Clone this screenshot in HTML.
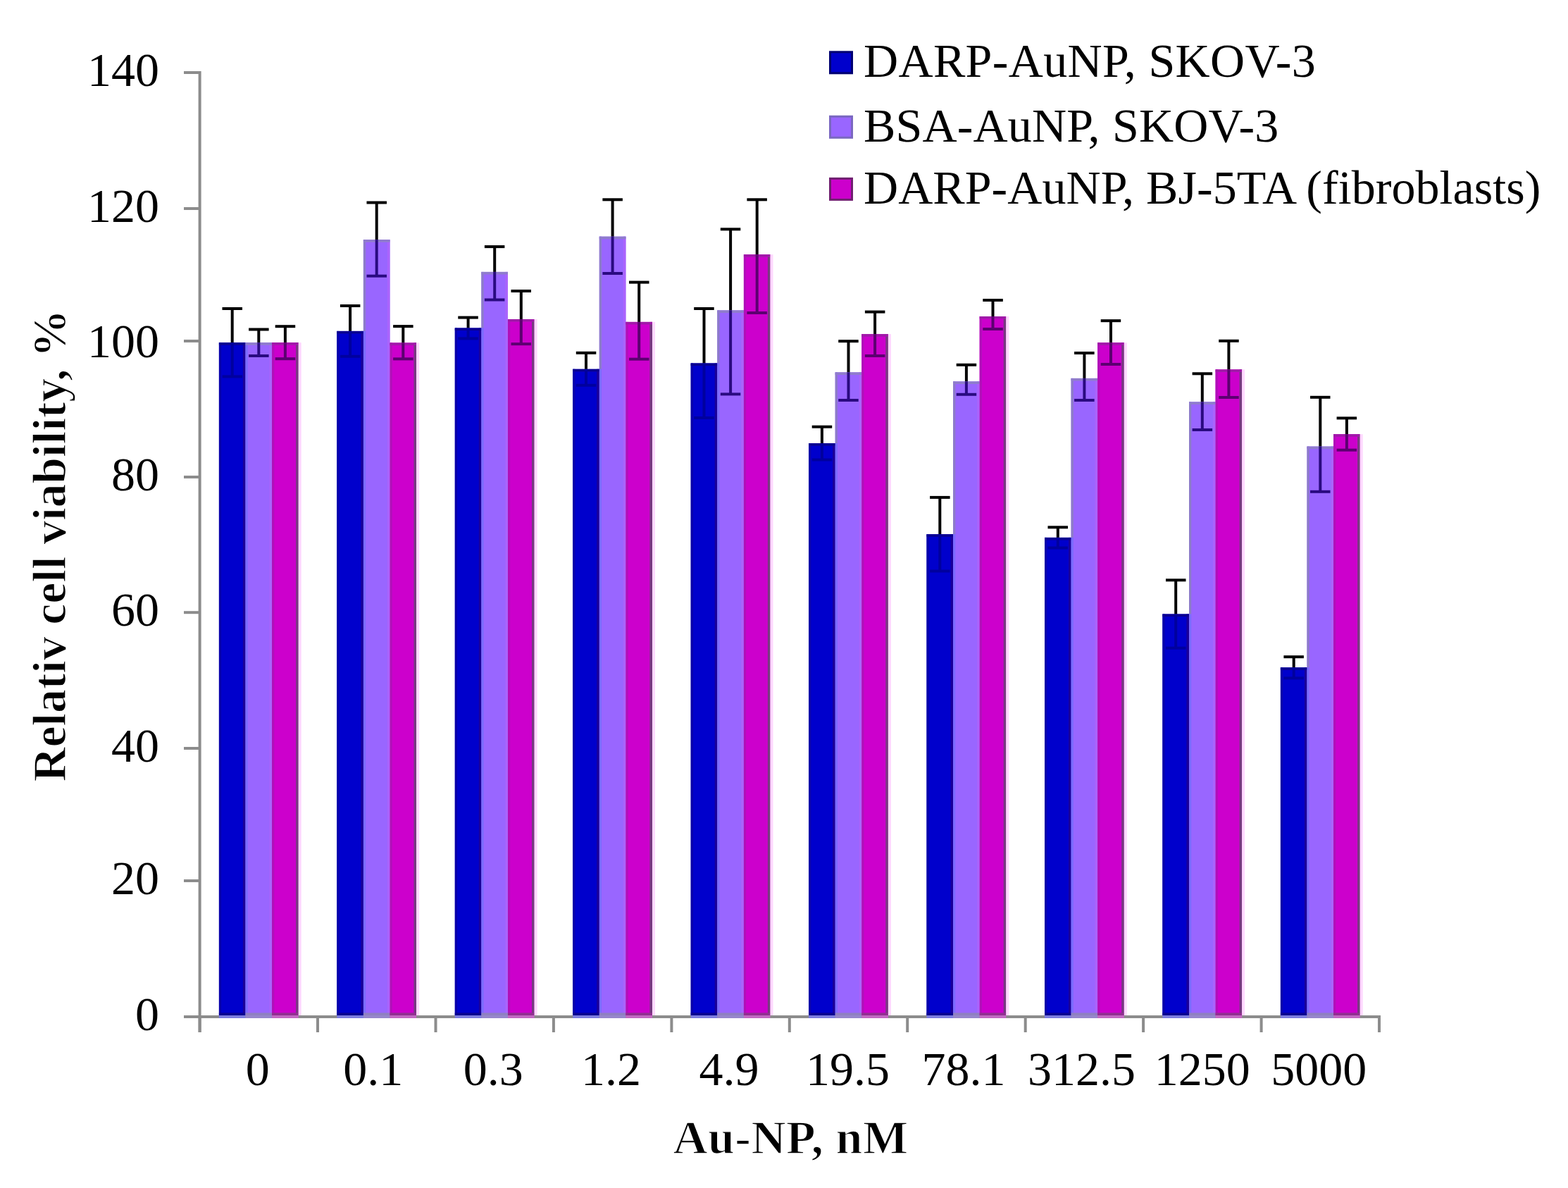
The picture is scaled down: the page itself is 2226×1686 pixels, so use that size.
<!DOCTYPE html>
<html><head><meta charset="utf-8"><title>Relative cell viability</title>
<style>
html,body{margin:0;padding:0;background:#fff;}
svg{display:block;}
.t{font-family:"Liberation Serif","Times New Roman",serif;font-size:68px;fill:#000;}
.b{font-weight:bold;stroke:#fff;stroke-width:1.4px;}
</style></head>
<body>
<svg width="2226" height="1686" viewBox="0 0 2226 1686">
<rect width="2226" height="1686" fill="#fff"/>
<rect x="310.9" y="486.2" width="37.6" height="956.8" fill="#0000cc"/>
<rect x="348.5" y="486.2" width="37.6" height="956.8" fill="#9966ff"/>
<rect x="386.1" y="486.2" width="37.6" height="956.8" fill="#cc00cc"/>
<rect x="478.3" y="469.9" width="37.6" height="973.1" fill="#0000cc"/>
<rect x="515.9" y="340.1" width="37.6" height="1102.9" fill="#9966ff"/>
<rect x="553.5" y="486.5" width="37.6" height="956.5" fill="#cc00cc"/>
<rect x="645.8" y="465.5" width="37.6" height="977.5" fill="#0000cc"/>
<rect x="683.4" y="385.9" width="37.6" height="1057.1" fill="#9966ff"/>
<rect x="721" y="453" width="37.6" height="990" fill="#cc00cc"/>
<rect x="813.2" y="523.8" width="37.6" height="919.2" fill="#0000cc"/>
<rect x="850.8" y="335.7" width="37.6" height="1107.3" fill="#9966ff"/>
<rect x="888.4" y="456.9" width="37.6" height="986.1" fill="#cc00cc"/>
<rect x="980.7" y="515.5" width="37.6" height="927.5" fill="#0000cc"/>
<rect x="1018.3" y="440.4" width="37.6" height="1002.6" fill="#9966ff"/>
<rect x="1055.9" y="361.2" width="37.6" height="1081.8" fill="#cc00cc"/>
<rect x="1148.1" y="629.1" width="37.6" height="813.9" fill="#0000cc"/>
<rect x="1185.7" y="528.4" width="37.6" height="914.6" fill="#9966ff"/>
<rect x="1223.3" y="474.1" width="37.6" height="968.9" fill="#cc00cc"/>
<rect x="1315.5" y="758.2" width="37.6" height="684.8" fill="#0000cc"/>
<rect x="1353.1" y="541.4" width="37.6" height="901.6" fill="#9966ff"/>
<rect x="1390.7" y="449" width="37.6" height="994" fill="#cc00cc"/>
<rect x="1483" y="762.9" width="37.6" height="680.1" fill="#0000cc"/>
<rect x="1520.6" y="536.9" width="37.6" height="906.1" fill="#9966ff"/>
<rect x="1558.2" y="486.3" width="37.6" height="956.7" fill="#cc00cc"/>
<rect x="1650.4" y="871.5" width="37.6" height="571.5" fill="#0000cc"/>
<rect x="1688" y="570.4" width="37.6" height="872.6" fill="#9966ff"/>
<rect x="1725.6" y="524.4" width="37.6" height="918.6" fill="#cc00cc"/>
<rect x="1817.9" y="947.3" width="37.6" height="495.7" fill="#0000cc"/>
<rect x="1855.5" y="633.6" width="37.6" height="809.4" fill="#9966ff"/>
<rect x="1893.1" y="616.2" width="37.6" height="826.8" fill="#cc00cc"/>
<rect x="310.9" y="486.2" width="3.2" height="954.8" fill="#0800aa"/>
<rect x="344.9" y="486.2" width="3.6" height="954.8" fill="#1a0099"/>
<rect x="310.9" y="486.2" width="37.6" height="3.6" fill="#0a0090"/>
<rect x="310.9" y="1437.4" width="37.6" height="3.6" fill="#0a0090"/>
<rect x="348.5" y="486.2" width="3.2" height="954.8" fill="#7a6cff"/>
<rect x="382.5" y="486.2" width="3.6" height="954.8" fill="#aa64fc"/>
<rect x="348.5" y="486.2" width="37.6" height="3.6" fill="#8f7ccc"/>
<rect x="348.5" y="1437.4" width="37.6" height="3.6" fill="#8f80c0"/>
<rect x="386.1" y="486.2" width="3.2" height="954.8" fill="#b010b8"/>
<rect x="420.1" y="486.2" width="3.6" height="954.8" fill="#773a80"/>
<rect x="386.1" y="486.2" width="37.6" height="3.6" fill="#a01aa8"/>
<rect x="386.1" y="1437.4" width="37.6" height="3.6" fill="#903090"/>
<rect x="423.7" y="486.2" width="4" height="954.8" fill="#ffd8ff"/>
<rect x="478.3" y="469.9" width="3.2" height="971.1" fill="#0800aa"/>
<rect x="512.3" y="469.9" width="3.6" height="971.1" fill="#1a0099"/>
<rect x="478.3" y="469.9" width="37.6" height="3.6" fill="#0a0090"/>
<rect x="478.3" y="1437.4" width="37.6" height="3.6" fill="#0a0090"/>
<rect x="515.9" y="340.1" width="3.2" height="129.8" fill="#8c7cc8"/>
<rect x="515.9" y="469.9" width="3.2" height="971.1" fill="#7a6cff"/>
<rect x="549.9" y="340.1" width="3.6" height="1100.9" fill="#aa64fc"/>
<rect x="515.9" y="340.1" width="37.6" height="3.6" fill="#8f7ccc"/>
<rect x="515.9" y="1437.4" width="37.6" height="3.6" fill="#8f80c0"/>
<rect x="553.5" y="486.5" width="3.2" height="954.5" fill="#b010b8"/>
<rect x="587.5" y="486.5" width="3.6" height="954.5" fill="#773a80"/>
<rect x="553.5" y="486.5" width="37.6" height="3.6" fill="#a01aa8"/>
<rect x="553.5" y="1437.4" width="37.6" height="3.6" fill="#903090"/>
<rect x="591.1" y="486.5" width="4" height="954.5" fill="#ffd8ff"/>
<rect x="645.8" y="465.5" width="3.2" height="975.5" fill="#0800aa"/>
<rect x="679.8" y="465.5" width="3.6" height="975.5" fill="#1a0099"/>
<rect x="645.8" y="465.5" width="37.6" height="3.6" fill="#0a0090"/>
<rect x="645.8" y="1437.4" width="37.6" height="3.6" fill="#0a0090"/>
<rect x="683.4" y="385.9" width="3.2" height="79.6" fill="#8c7cc8"/>
<rect x="683.4" y="465.5" width="3.2" height="975.5" fill="#7a6cff"/>
<rect x="717.4" y="385.9" width="3.6" height="1055.1" fill="#aa64fc"/>
<rect x="683.4" y="385.9" width="37.6" height="3.6" fill="#8f7ccc"/>
<rect x="683.4" y="1437.4" width="37.6" height="3.6" fill="#8f80c0"/>
<rect x="721" y="453" width="3.2" height="988" fill="#b010b8"/>
<rect x="755" y="453" width="3.6" height="988" fill="#773a80"/>
<rect x="721" y="453" width="37.6" height="3.6" fill="#a01aa8"/>
<rect x="721" y="1437.4" width="37.6" height="3.6" fill="#903090"/>
<rect x="758.6" y="453" width="4" height="988" fill="#ffd8ff"/>
<rect x="813.2" y="523.8" width="3.2" height="917.2" fill="#0800aa"/>
<rect x="847.2" y="523.8" width="3.6" height="917.2" fill="#1a0099"/>
<rect x="813.2" y="523.8" width="37.6" height="3.6" fill="#0a0090"/>
<rect x="813.2" y="1437.4" width="37.6" height="3.6" fill="#0a0090"/>
<rect x="850.8" y="335.7" width="3.2" height="188.1" fill="#8c7cc8"/>
<rect x="850.8" y="523.8" width="3.2" height="917.2" fill="#7a6cff"/>
<rect x="884.8" y="335.7" width="3.6" height="1105.3" fill="#aa64fc"/>
<rect x="850.8" y="335.7" width="37.6" height="3.6" fill="#8f7ccc"/>
<rect x="850.8" y="1437.4" width="37.6" height="3.6" fill="#8f80c0"/>
<rect x="888.4" y="456.9" width="3.2" height="984.1" fill="#b010b8"/>
<rect x="922.4" y="456.9" width="3.6" height="984.1" fill="#773a80"/>
<rect x="888.4" y="456.9" width="37.6" height="3.6" fill="#a01aa8"/>
<rect x="888.4" y="1437.4" width="37.6" height="3.6" fill="#903090"/>
<rect x="926" y="456.9" width="4" height="984.1" fill="#ffd8ff"/>
<rect x="980.7" y="515.5" width="3.2" height="925.5" fill="#0800aa"/>
<rect x="1014.7" y="515.5" width="3.6" height="925.5" fill="#1a0099"/>
<rect x="980.7" y="515.5" width="37.6" height="3.6" fill="#0a0090"/>
<rect x="980.7" y="1437.4" width="37.6" height="3.6" fill="#0a0090"/>
<rect x="1018.3" y="440.4" width="3.2" height="75.1" fill="#8c7cc8"/>
<rect x="1018.3" y="515.5" width="3.2" height="925.5" fill="#7a6cff"/>
<rect x="1052.3" y="440.4" width="3.6" height="1000.6" fill="#aa64fc"/>
<rect x="1018.3" y="440.4" width="37.6" height="3.6" fill="#8f7ccc"/>
<rect x="1018.3" y="1437.4" width="37.6" height="3.6" fill="#8f80c0"/>
<rect x="1055.9" y="361.2" width="3.2" height="1079.8" fill="#b010b8"/>
<rect x="1089.9" y="361.2" width="3.6" height="1079.8" fill="#773a80"/>
<rect x="1055.9" y="361.2" width="37.6" height="3.6" fill="#a01aa8"/>
<rect x="1055.9" y="1437.4" width="37.6" height="3.6" fill="#903090"/>
<rect x="1093.5" y="361.2" width="4" height="1079.8" fill="#ffd8ff"/>
<rect x="1148.1" y="629.1" width="3.2" height="811.9" fill="#0800aa"/>
<rect x="1182.1" y="629.1" width="3.6" height="811.9" fill="#1a0099"/>
<rect x="1148.1" y="629.1" width="37.6" height="3.6" fill="#0a0090"/>
<rect x="1148.1" y="1437.4" width="37.6" height="3.6" fill="#0a0090"/>
<rect x="1185.7" y="528.4" width="3.2" height="100.7" fill="#8c7cc8"/>
<rect x="1185.7" y="629.1" width="3.2" height="811.9" fill="#7a6cff"/>
<rect x="1219.7" y="528.4" width="3.6" height="912.6" fill="#aa64fc"/>
<rect x="1185.7" y="528.4" width="37.6" height="3.6" fill="#8f7ccc"/>
<rect x="1185.7" y="1437.4" width="37.6" height="3.6" fill="#8f80c0"/>
<rect x="1223.3" y="474.1" width="3.2" height="966.9" fill="#b010b8"/>
<rect x="1257.3" y="474.1" width="3.6" height="966.9" fill="#773a80"/>
<rect x="1223.3" y="474.1" width="37.6" height="3.6" fill="#a01aa8"/>
<rect x="1223.3" y="1437.4" width="37.6" height="3.6" fill="#903090"/>
<rect x="1260.9" y="474.1" width="4" height="966.9" fill="#ffd8ff"/>
<rect x="1315.5" y="758.2" width="3.2" height="682.8" fill="#0800aa"/>
<rect x="1349.5" y="758.2" width="3.6" height="682.8" fill="#1a0099"/>
<rect x="1315.5" y="758.2" width="37.6" height="3.6" fill="#0a0090"/>
<rect x="1315.5" y="1437.4" width="37.6" height="3.6" fill="#0a0090"/>
<rect x="1353.1" y="541.4" width="3.2" height="216.8" fill="#8c7cc8"/>
<rect x="1353.1" y="758.2" width="3.2" height="682.8" fill="#7a6cff"/>
<rect x="1387.1" y="541.4" width="3.6" height="899.6" fill="#aa64fc"/>
<rect x="1353.1" y="541.4" width="37.6" height="3.6" fill="#8f7ccc"/>
<rect x="1353.1" y="1437.4" width="37.6" height="3.6" fill="#8f80c0"/>
<rect x="1390.7" y="449" width="3.2" height="992" fill="#b010b8"/>
<rect x="1424.7" y="449" width="3.6" height="992" fill="#773a80"/>
<rect x="1390.7" y="449" width="37.6" height="3.6" fill="#a01aa8"/>
<rect x="1390.7" y="1437.4" width="37.6" height="3.6" fill="#903090"/>
<rect x="1428.3" y="449" width="4" height="992" fill="#ffd8ff"/>
<rect x="1483" y="762.9" width="3.2" height="678.1" fill="#0800aa"/>
<rect x="1517" y="762.9" width="3.6" height="678.1" fill="#1a0099"/>
<rect x="1483" y="762.9" width="37.6" height="3.6" fill="#0a0090"/>
<rect x="1483" y="1437.4" width="37.6" height="3.6" fill="#0a0090"/>
<rect x="1520.6" y="536.9" width="3.2" height="226" fill="#8c7cc8"/>
<rect x="1520.6" y="762.9" width="3.2" height="678.1" fill="#7a6cff"/>
<rect x="1554.6" y="536.9" width="3.6" height="904.1" fill="#aa64fc"/>
<rect x="1520.6" y="536.9" width="37.6" height="3.6" fill="#8f7ccc"/>
<rect x="1520.6" y="1437.4" width="37.6" height="3.6" fill="#8f80c0"/>
<rect x="1558.2" y="486.3" width="3.2" height="954.7" fill="#b010b8"/>
<rect x="1592.2" y="486.3" width="3.6" height="954.7" fill="#773a80"/>
<rect x="1558.2" y="486.3" width="37.6" height="3.6" fill="#a01aa8"/>
<rect x="1558.2" y="1437.4" width="37.6" height="3.6" fill="#903090"/>
<rect x="1595.8" y="486.3" width="4" height="954.7" fill="#ffd8ff"/>
<rect x="1650.4" y="871.5" width="3.2" height="569.5" fill="#0800aa"/>
<rect x="1684.4" y="871.5" width="3.6" height="569.5" fill="#1a0099"/>
<rect x="1650.4" y="871.5" width="37.6" height="3.6" fill="#0a0090"/>
<rect x="1650.4" y="1437.4" width="37.6" height="3.6" fill="#0a0090"/>
<rect x="1688" y="570.4" width="3.2" height="301.1" fill="#8c7cc8"/>
<rect x="1688" y="871.5" width="3.2" height="569.5" fill="#7a6cff"/>
<rect x="1722" y="570.4" width="3.6" height="870.6" fill="#aa64fc"/>
<rect x="1688" y="570.4" width="37.6" height="3.6" fill="#8f7ccc"/>
<rect x="1688" y="1437.4" width="37.6" height="3.6" fill="#8f80c0"/>
<rect x="1725.6" y="524.4" width="3.2" height="916.6" fill="#b010b8"/>
<rect x="1759.6" y="524.4" width="3.6" height="916.6" fill="#773a80"/>
<rect x="1725.6" y="524.4" width="37.6" height="3.6" fill="#a01aa8"/>
<rect x="1725.6" y="1437.4" width="37.6" height="3.6" fill="#903090"/>
<rect x="1763.2" y="524.4" width="4" height="916.6" fill="#ffd8ff"/>
<rect x="1817.9" y="947.3" width="3.2" height="493.7" fill="#0800aa"/>
<rect x="1851.9" y="947.3" width="3.6" height="493.7" fill="#1a0099"/>
<rect x="1817.9" y="947.3" width="37.6" height="3.6" fill="#0a0090"/>
<rect x="1817.9" y="1437.4" width="37.6" height="3.6" fill="#0a0090"/>
<rect x="1855.5" y="633.6" width="3.2" height="313.7" fill="#8c7cc8"/>
<rect x="1855.5" y="947.3" width="3.2" height="493.7" fill="#7a6cff"/>
<rect x="1889.5" y="633.6" width="3.6" height="807.4" fill="#aa64fc"/>
<rect x="1855.5" y="633.6" width="37.6" height="3.6" fill="#8f7ccc"/>
<rect x="1855.5" y="1437.4" width="37.6" height="3.6" fill="#8f80c0"/>
<rect x="1893.1" y="616.2" width="3.2" height="824.8" fill="#b010b8"/>
<rect x="1927.1" y="616.2" width="3.6" height="824.8" fill="#773a80"/>
<rect x="1893.1" y="616.2" width="37.6" height="3.6" fill="#a01aa8"/>
<rect x="1893.1" y="1437.4" width="37.6" height="3.6" fill="#903090"/>
<rect x="1930.7" y="616.2" width="4" height="824.8" fill="#ffd8ff"/>
<rect x="327.7" y="438" width="4" height="48.2" fill="#000"/>
<rect x="315.5" y="436" width="28.5" height="4" fill="#000"/>
<rect x="327.7" y="486.2" width="4" height="48.2" fill="#00009e"/>
<rect x="315.5" y="532.4" width="28.5" height="4" fill="#00009e"/>
<rect x="365.3" y="467.5" width="4" height="18.7" fill="#000"/>
<rect x="353.1" y="465.5" width="28.5" height="4" fill="#000"/>
<rect x="365.3" y="486.2" width="4" height="18.8" fill="#2a0a80"/>
<rect x="353.1" y="503" width="28.5" height="4" fill="#2a0a80"/>
<rect x="402.9" y="463.2" width="4" height="23" fill="#000"/>
<rect x="390.7" y="461.2" width="28.5" height="4" fill="#000"/>
<rect x="402.9" y="486.2" width="4" height="23" fill="#5c0070"/>
<rect x="390.7" y="507.2" width="28.5" height="4" fill="#5c0070"/>
<rect x="495.1" y="434" width="4" height="35.9" fill="#000"/>
<rect x="482.9" y="432" width="28.5" height="4" fill="#000"/>
<rect x="495.1" y="469.9" width="4" height="35.9" fill="#00009e"/>
<rect x="482.9" y="503.8" width="28.5" height="4" fill="#00009e"/>
<rect x="532.7" y="287.5" width="4" height="52.6" fill="#000"/>
<rect x="520.5" y="285.5" width="28.5" height="4" fill="#000"/>
<rect x="532.7" y="340.1" width="4" height="51.6" fill="#2a0a80"/>
<rect x="520.5" y="389.7" width="28.5" height="4" fill="#2a0a80"/>
<rect x="570.3" y="463.1" width="4" height="23.4" fill="#000"/>
<rect x="558.1" y="461.1" width="28.5" height="4" fill="#000"/>
<rect x="570.3" y="486.5" width="4" height="22.9" fill="#5c0070"/>
<rect x="558.1" y="507.4" width="28.5" height="4" fill="#5c0070"/>
<rect x="662.6" y="450.6" width="4" height="14.9" fill="#000"/>
<rect x="650.3" y="448.6" width="28.5" height="4" fill="#000"/>
<rect x="662.6" y="465.5" width="4" height="14.9" fill="#00009e"/>
<rect x="650.3" y="478.4" width="28.5" height="4" fill="#00009e"/>
<rect x="700.2" y="350.1" width="4" height="35.8" fill="#000"/>
<rect x="687.9" y="348.1" width="28.5" height="4" fill="#000"/>
<rect x="700.2" y="385.9" width="4" height="39.6" fill="#2a0a80"/>
<rect x="687.9" y="423.5" width="28.5" height="4" fill="#2a0a80"/>
<rect x="737.8" y="413" width="4" height="40" fill="#000"/>
<rect x="725.5" y="411" width="28.5" height="4" fill="#000"/>
<rect x="737.8" y="453" width="4" height="35.2" fill="#5c0070"/>
<rect x="725.5" y="486.2" width="28.5" height="4" fill="#5c0070"/>
<rect x="830" y="500.8" width="4" height="23" fill="#000"/>
<rect x="817.8" y="498.8" width="28.5" height="4" fill="#000"/>
<rect x="830" y="523.8" width="4" height="23" fill="#00009e"/>
<rect x="817.8" y="544.8" width="28.5" height="4" fill="#00009e"/>
<rect x="867.6" y="283.3" width="4" height="52.4" fill="#000"/>
<rect x="855.4" y="281.3" width="28.5" height="4" fill="#000"/>
<rect x="867.6" y="335.7" width="4" height="52.3" fill="#2a0a80"/>
<rect x="855.4" y="386" width="28.5" height="4" fill="#2a0a80"/>
<rect x="905.2" y="400.6" width="4" height="56.3" fill="#000"/>
<rect x="893" y="398.6" width="28.5" height="4" fill="#000"/>
<rect x="905.2" y="456.9" width="4" height="52.8" fill="#5c0070"/>
<rect x="893" y="507.7" width="28.5" height="4" fill="#5c0070"/>
<rect x="997.5" y="438" width="4" height="77.5" fill="#000"/>
<rect x="985.2" y="436" width="28.5" height="4" fill="#000"/>
<rect x="997.5" y="515.5" width="4" height="77.5" fill="#00009e"/>
<rect x="985.2" y="591" width="28.5" height="4" fill="#00009e"/>
<rect x="1035.1" y="325.3" width="4" height="115.1" fill="#000"/>
<rect x="1022.8" y="323.3" width="28.5" height="4" fill="#000"/>
<rect x="1035.1" y="440.4" width="4" height="119" fill="#2a0a80"/>
<rect x="1022.8" y="557.4" width="28.5" height="4" fill="#2a0a80"/>
<rect x="1072.7" y="283.3" width="4" height="77.9" fill="#000"/>
<rect x="1060.4" y="281.3" width="28.5" height="4" fill="#000"/>
<rect x="1072.7" y="361.2" width="4" height="82.8" fill="#5c0070"/>
<rect x="1060.4" y="442" width="28.5" height="4" fill="#5c0070"/>
<rect x="1164.9" y="605.7" width="4" height="23.4" fill="#000"/>
<rect x="1152.7" y="603.7" width="28.5" height="4" fill="#000"/>
<rect x="1164.9" y="629.1" width="4" height="23.4" fill="#00009e"/>
<rect x="1152.7" y="650.5" width="28.5" height="4" fill="#00009e"/>
<rect x="1202.5" y="484.2" width="4" height="44.2" fill="#000"/>
<rect x="1190.2" y="482.2" width="28.5" height="4" fill="#000"/>
<rect x="1202.5" y="528.4" width="4" height="39.6" fill="#2a0a80"/>
<rect x="1190.2" y="566" width="28.5" height="4" fill="#2a0a80"/>
<rect x="1240.1" y="442.6" width="4" height="31.5" fill="#000"/>
<rect x="1227.9" y="440.6" width="28.5" height="4" fill="#000"/>
<rect x="1240.1" y="474.1" width="4" height="30.9" fill="#5c0070"/>
<rect x="1227.9" y="503" width="28.5" height="4" fill="#5c0070"/>
<rect x="1332.3" y="705.9" width="4" height="52.3" fill="#000"/>
<rect x="1320.1" y="703.9" width="28.5" height="4" fill="#000"/>
<rect x="1332.3" y="758.2" width="4" height="52.3" fill="#00009e"/>
<rect x="1320.1" y="808.5" width="28.5" height="4" fill="#00009e"/>
<rect x="1369.9" y="517.8" width="4" height="23.6" fill="#000"/>
<rect x="1357.7" y="515.8" width="28.5" height="4" fill="#000"/>
<rect x="1369.9" y="541.4" width="4" height="18.4" fill="#2a0a80"/>
<rect x="1357.7" y="557.8" width="28.5" height="4" fill="#2a0a80"/>
<rect x="1407.5" y="426" width="4" height="23" fill="#000"/>
<rect x="1395.3" y="424" width="28.5" height="4" fill="#000"/>
<rect x="1407.5" y="449" width="4" height="18" fill="#5c0070"/>
<rect x="1395.3" y="465" width="28.5" height="4" fill="#5c0070"/>
<rect x="1499.8" y="748.3" width="4" height="14.6" fill="#000"/>
<rect x="1487.5" y="746.3" width="28.5" height="4" fill="#000"/>
<rect x="1499.8" y="762.9" width="4" height="14.6" fill="#00009e"/>
<rect x="1487.5" y="775.5" width="28.5" height="4" fill="#00009e"/>
<rect x="1537.4" y="501" width="4" height="35.9" fill="#000"/>
<rect x="1525.1" y="499" width="28.5" height="4" fill="#000"/>
<rect x="1537.4" y="536.9" width="4" height="31.1" fill="#2a0a80"/>
<rect x="1525.1" y="566" width="28.5" height="4" fill="#2a0a80"/>
<rect x="1575" y="455.2" width="4" height="31.1" fill="#000"/>
<rect x="1562.7" y="453.2" width="28.5" height="4" fill="#000"/>
<rect x="1575" y="486.3" width="4" height="30.7" fill="#5c0070"/>
<rect x="1562.7" y="515" width="28.5" height="4" fill="#5c0070"/>
<rect x="1667.2" y="823.3" width="4" height="48.2" fill="#000"/>
<rect x="1655" y="821.3" width="28.5" height="4" fill="#000"/>
<rect x="1667.2" y="871.5" width="4" height="48.2" fill="#00009e"/>
<rect x="1655" y="917.7" width="28.5" height="4" fill="#00009e"/>
<rect x="1704.8" y="530.3" width="4" height="40.1" fill="#000"/>
<rect x="1692.6" y="528.3" width="28.5" height="4" fill="#000"/>
<rect x="1704.8" y="570.4" width="4" height="39.6" fill="#2a0a80"/>
<rect x="1692.6" y="608" width="28.5" height="4" fill="#2a0a80"/>
<rect x="1742.4" y="483.8" width="4" height="40.6" fill="#000"/>
<rect x="1730.2" y="481.8" width="28.5" height="4" fill="#000"/>
<rect x="1742.4" y="524.4" width="4" height="39.6" fill="#5c0070"/>
<rect x="1730.2" y="562" width="28.5" height="4" fill="#5c0070"/>
<rect x="1834.7" y="932.2" width="4" height="15.1" fill="#000"/>
<rect x="1822.4" y="930.2" width="28.5" height="4" fill="#000"/>
<rect x="1834.7" y="947.3" width="4" height="15.1" fill="#00009e"/>
<rect x="1822.4" y="960.4" width="28.5" height="4" fill="#00009e"/>
<rect x="1872.3" y="563.8" width="4" height="69.8" fill="#000"/>
<rect x="1860" y="561.8" width="28.5" height="4" fill="#000"/>
<rect x="1872.3" y="633.6" width="4" height="64.2" fill="#2a0a80"/>
<rect x="1860" y="695.8" width="28.5" height="4" fill="#2a0a80"/>
<rect x="1909.9" y="593.4" width="4" height="22.8" fill="#000"/>
<rect x="1897.6" y="591.4" width="28.5" height="4" fill="#000"/>
<rect x="1909.9" y="616.2" width="4" height="22.5" fill="#5c0070"/>
<rect x="1897.6" y="636.7" width="28.5" height="4" fill="#5c0070"/>
<rect x="281.6" y="101" width="4" height="1364" fill="#8c8c8c"/>
<rect x="261" y="1441" width="1699" height="4" fill="#8c8c8c"/>
<rect x="261" y="1441" width="22.6" height="4" fill="#8c8c8c"/>
<rect x="261" y="1248" width="22.6" height="4" fill="#8c8c8c"/>
<rect x="261" y="1060" width="22.6" height="4" fill="#8c8c8c"/>
<rect x="261" y="867.2" width="22.6" height="4" fill="#8c8c8c"/>
<rect x="261" y="675" width="22.6" height="4" fill="#8c8c8c"/>
<rect x="261" y="482" width="22.6" height="4" fill="#8c8c8c"/>
<rect x="261" y="294" width="22.6" height="4" fill="#8c8c8c"/>
<rect x="261" y="101" width="22.6" height="4" fill="#8c8c8c"/>
<rect x="281.6" y="1443" width="4" height="22" fill="#8c8c8c"/>
<rect x="449" y="1443" width="4" height="22" fill="#8c8c8c"/>
<rect x="616.5" y="1443" width="4" height="22" fill="#8c8c8c"/>
<rect x="783.9" y="1443" width="4" height="22" fill="#8c8c8c"/>
<rect x="951.4" y="1443" width="4" height="22" fill="#8c8c8c"/>
<rect x="1118.8" y="1443" width="4" height="22" fill="#8c8c8c"/>
<rect x="1286.2" y="1443" width="4" height="22" fill="#8c8c8c"/>
<rect x="1453.7" y="1443" width="4" height="22" fill="#8c8c8c"/>
<rect x="1621.1" y="1443" width="4" height="22" fill="#8c8c8c"/>
<rect x="1788.6" y="1443" width="4" height="22" fill="#8c8c8c"/>
<rect x="1956" y="1443" width="4" height="22" fill="#8c8c8c"/>
<rect x="310.9" y="1441" width="37.6" height="4" fill="#7c7ce0"/>
<rect x="348.5" y="1441" width="37.6" height="4" fill="#9686cc"/>
<rect x="386.1" y="1441" width="37.6" height="4" fill="#c268c2"/>
<rect x="478.3" y="1441" width="37.6" height="4" fill="#7c7ce0"/>
<rect x="515.9" y="1441" width="37.6" height="4" fill="#9686cc"/>
<rect x="553.5" y="1441" width="37.6" height="4" fill="#c268c2"/>
<rect x="645.8" y="1441" width="37.6" height="4" fill="#7c7ce0"/>
<rect x="683.4" y="1441" width="37.6" height="4" fill="#9686cc"/>
<rect x="721" y="1441" width="37.6" height="4" fill="#c268c2"/>
<rect x="813.2" y="1441" width="37.6" height="4" fill="#7c7ce0"/>
<rect x="850.8" y="1441" width="37.6" height="4" fill="#9686cc"/>
<rect x="888.4" y="1441" width="37.6" height="4" fill="#c268c2"/>
<rect x="980.7" y="1441" width="37.6" height="4" fill="#7c7ce0"/>
<rect x="1018.3" y="1441" width="37.6" height="4" fill="#9686cc"/>
<rect x="1055.9" y="1441" width="37.6" height="4" fill="#c268c2"/>
<rect x="1148.1" y="1441" width="37.6" height="4" fill="#7c7ce0"/>
<rect x="1185.7" y="1441" width="37.6" height="4" fill="#9686cc"/>
<rect x="1223.3" y="1441" width="37.6" height="4" fill="#c268c2"/>
<rect x="1315.5" y="1441" width="37.6" height="4" fill="#7c7ce0"/>
<rect x="1353.1" y="1441" width="37.6" height="4" fill="#9686cc"/>
<rect x="1390.7" y="1441" width="37.6" height="4" fill="#c268c2"/>
<rect x="1483" y="1441" width="37.6" height="4" fill="#7c7ce0"/>
<rect x="1520.6" y="1441" width="37.6" height="4" fill="#9686cc"/>
<rect x="1558.2" y="1441" width="37.6" height="4" fill="#c268c2"/>
<rect x="1650.4" y="1441" width="37.6" height="4" fill="#7c7ce0"/>
<rect x="1688" y="1441" width="37.6" height="4" fill="#9686cc"/>
<rect x="1725.6" y="1441" width="37.6" height="4" fill="#c268c2"/>
<rect x="1817.9" y="1441" width="37.6" height="4" fill="#7c7ce0"/>
<rect x="1855.5" y="1441" width="37.6" height="4" fill="#9686cc"/>
<rect x="1893.1" y="1441" width="37.6" height="4" fill="#c268c2"/>
<text x="226" y="1461.8" text-anchor="end" class="t">0</text>
<text x="226" y="1269.1" text-anchor="end" class="t">20</text>
<text x="226" y="1080.8" text-anchor="end" class="t">40</text>
<text x="226" y="888.3" text-anchor="end" class="t">60</text>
<text x="226" y="695.7" text-anchor="end" class="t">80</text>
<text x="226" y="507.3" text-anchor="end" class="t">100</text>
<text x="226" y="314.9" text-anchor="end" class="t">120</text>
<text x="226" y="122.2" text-anchor="end" class="t">140</text>
<text x="365.8" y="1540" text-anchor="middle" class="t">0</text>
<text x="529.8" y="1540" text-anchor="middle" class="t">0.1</text>
<text x="700.2" y="1540" text-anchor="middle" class="t">0.3</text>
<text x="867.6" y="1540" text-anchor="middle" class="t">1.2</text>
<text x="1035.1" y="1540" text-anchor="middle" class="t">4.9</text>
<text x="1203.5" y="1540" text-anchor="middle" class="t">19.5</text>
<text x="1368" y="1540" text-anchor="middle" class="t">78.1</text>
<text x="1535.4" y="1540" text-anchor="middle" class="t">312.5</text>
<text x="1706.8" y="1540" text-anchor="middle" class="t">1250</text>
<text x="1872.3" y="1540" text-anchor="middle" class="t">5000</text>
<text x="1122.5" y="1636.5" text-anchor="middle" class="t b" letter-spacing="0.45">Au-NP, nM</text>
<text transform="translate(92.5 774.5) rotate(-90)" x="0" y="0" text-anchor="middle" class="t b" letter-spacing="-0.25">Relativ cell viability, %</text>
<rect x="1178.5" y="73.8" width="31" height="30" fill="#0000cc" stroke="#000070" stroke-width="3"/>
<text x="1226" y="109" class="t" letter-spacing="0.35">DARP-AuNP, SKOV-3</text>
<rect x="1178.5" y="165.3" width="31" height="30" fill="#9966ff" stroke="#7a68c0" stroke-width="3"/>
<text x="1226" y="200.5" class="t" letter-spacing="0.15">BSA-AuNP, SKOV-3</text>
<rect x="1178.5" y="253.4" width="31" height="30" fill="#cc00cc" stroke="#702070" stroke-width="3"/>
<text x="1226" y="288.5" class="t" letter-spacing="0.05">DARP-AuNP, BJ-5TA (fibroblasts)</text>
</svg>
</body></html>
